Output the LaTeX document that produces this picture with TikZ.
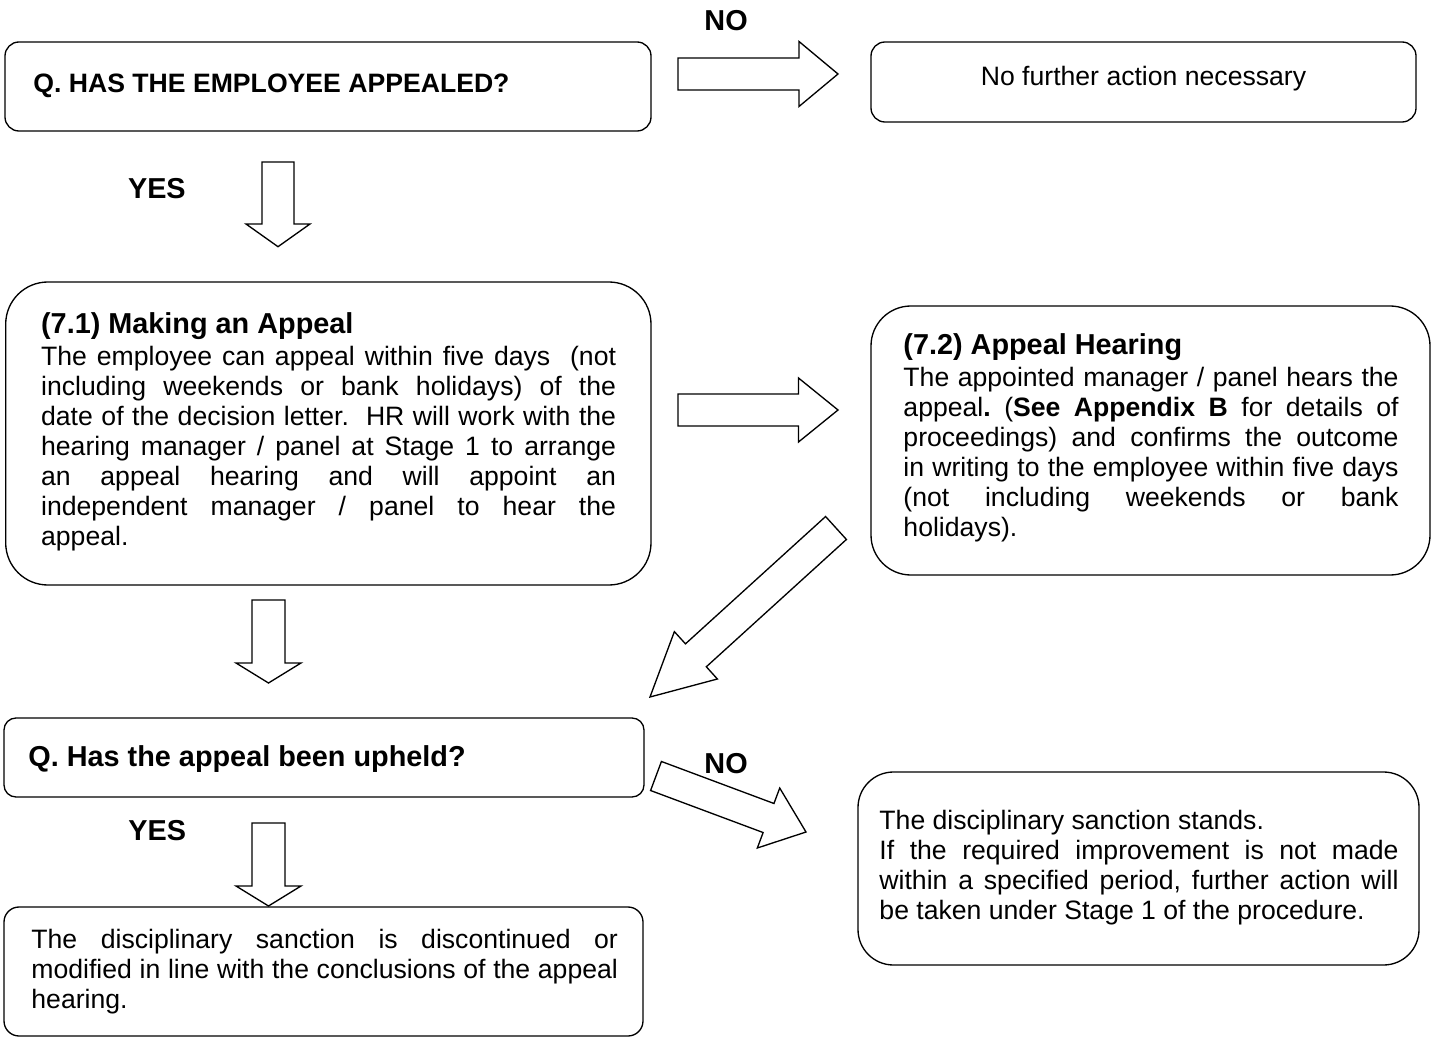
\documentclass[tikz,border=0pt]{standalone}
\usepackage{fontspec}
\setmainfont{Liberation Sans}
\usetikzlibrary{calc,fit}
\frenchspacing
\tikzset{
  box/.style={draw, line width=0.6pt, inner sep=0pt},
  barrow/.style={draw, line width=0.6pt, fill=white, line join=miter},
  bodytext/.style={inner sep=0pt, anchor=base west, align=justify,
    font={\fontsize{12}{13.53}\selectfont\frenchspacing\tolerance=10000\hbadness=10000\hyphenpenalty=10000}},
  plaintext/.style={inner sep=0pt, anchor=base west, font={\fontsize{12}{13.53}\selectfont}},
  titletext/.style={inner sep=0pt, anchor=base west, font={\fontsize{13}{15}\selectfont\bfseries}},
  qtext/.style={inner sep=0pt, anchor=base west, font={\fontsize{12}{14}\selectfont\bfseries}},
  yesno/.style={inner sep=0pt, anchor=base west, font={\fontsize{13}{15}\selectfont\bfseries}},
}
% block arrow: #1 tail coordinate, #2 tip coordinate, #3 half shaft width, #4 half head width, #5 head length (pixels)
\newcommand\blockarrow[5]{%
  \pgfmathsetlengthmacro\bkw{#3*0.451pt}%
  \pgfmathsetlengthmacro\bkh{#4*0.451pt}%
  \pgfmathsetlengthmacro\bkl{#5*0.451pt}%
  \path ($(#2)!\bkl!(#1)$) coordinate (#1-h);
  \draw[barrow] ($(#1)!\bkw!90:(#2)$) -- ($(#1-h)!\bkw!90:(#2)$) -- ($(#1-h)!\bkh!90:(#2)$)
    -- (#2) -- ($(#1-h)!\bkh!-90:(#2)$) -- ($(#1-h)!\bkw!-90:(#2)$) -- ($(#1)!\bkw!-90:(#2)$) -- cycle;
}
\begin{document}
\begin{tikzpicture}[x=0.451pt, y=-0.451pt]
\useasboundingbox (0,0) rectangle (1437,1039);

% boxes
\node[box, rounded corners=6.3pt, fit={(5,42) (651,131)}] (b1) {};
\node[box, rounded corners=6.3pt, fit={(871,42) (1416,122)}] (b2) {};
\node[box, rounded corners=19pt, fit={(5.7,282) (651,585)}] (b3) {};
\node[box, rounded corners=18pt, fit={(871,306) (1430,575)}] (b4) {};
\node[box, rounded corners=5.4pt, fit={(4,718) (644,797)}] (b5) {};
\node[box, rounded corners=6.8pt, fit={(4,907) (643,1036)}] (b6) {};
\node[box, rounded corners=16pt, fit={(858,772) (1419,965)}] (b7) {};

% texts
\node[qtext] (t1) at (33,93) {Q. HAS THE EMPLOYEE APPEALED?};
\node[plaintext, anchor=base] (t2) at (1143.5,86) {No further action necessary};
\node[yesno] (no1) at (704,31) {NO};
\node[yesno] (yes1) at (127.6,199) {YES};

\node[titletext] (t3a) at (40.7,334) {(7.1) Making an Appeal};
\node[bodytext, text width=259.3pt] (t3b) at (40.7,366) {The employee can appeal within five days\ \ (not\linebreak including weekends or bank holidays) of the\linebreak date of the decision letter.\ \ HR will work with the\linebreak hearing manager / panel at Stage 1 to arrange\linebreak an appeal hearing and will appoint an\linebreak independent manager / panel to hear the\linebreak appeal.};

\node[titletext] (t4a) at (903,355) {(7.2) Appeal Hearing};
\node[bodytext, text width=223.3pt] (t4b) at (903,387) {The appointed manager / panel hears the\linebreak appeal\textbf{.} (\textbf{See Appendix B} for details of\linebreak proceedings) and confirms the outcome\linebreak in writing to the employee within five days\linebreak (not including weekends or bank\linebreak holidays).};

\node[titletext] (t5) at (28,766) {Q. Has the appeal been upheld?};
\node[yesno] (yes2) at (128,840) {YES};
\node[yesno] (no2) at (704,773) {NO};

\node[bodytext, text width=264.5pt] (t6) at (31,948) {The disciplinary sanction is discontinued or\linebreak modified in line with the conclusions of the appeal\linebreak hearing.};

\node[bodytext, text width=234.1pt] (t7) at (879,829) {The disciplinary sanction stands.\par If the required improvement is not made\linebreak within a specified period, further action will\linebreak be taken under Stage 1 of the procedure.};

% arrow end points
\coordinate (a1s) at (678,74);   \coordinate (a1e) at (838,74);
\coordinate (a2s) at (278,162);  \coordinate (a2e) at (278,246.7);
\coordinate (a3s) at (678,410);  \coordinate (a3e) at (838,410);
\coordinate (a4s) at (836,528);  \coordinate (a4e) at (650,697);
\coordinate (a5s) at (268.5,600); \coordinate (a5e) at (268.5,683);
\coordinate (a6s) at (656,776);  \coordinate (a6e) at (806,832);
\coordinate (a7s) at (268.5,823); \coordinate (a7e) at (268.5,906);

\blockarrow{a1s}{a1e}{16}{32.5}{39}
\blockarrow{a2s}{a2e}{16}{32}{22.7}
\blockarrow{a3s}{a3e}{16}{32}{39.5}
\blockarrow{a4s}{a4e}{15.5}{32}{62}
\blockarrow{a5s}{a5e}{16.5}{32.5}{20}
\blockarrow{a6s}{a6e}{15.5}{32}{40}
\blockarrow{a7s}{a7e}{16.5}{32.5}{20}
\end{tikzpicture}
\end{document}
